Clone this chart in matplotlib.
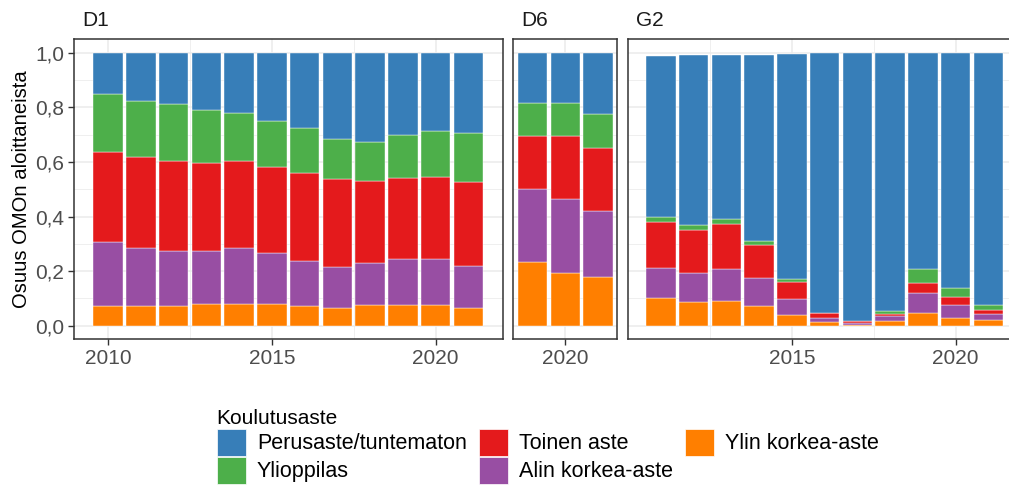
import numpy as np
import matplotlib.pyplot as plt
from matplotlib.patches import Patch

plt.rcParams['font.family'] = ['Liberation Sans', 'DejaVu Sans']

# Data: segment heights
levels = ['Ylin korkea-aste', 'Alin korkea-aste', 'Toinen aste', 'Ylioppilas', 'Perusaste/tuntematon']
colors = ['#FF7F00', '#984EA3', '#E41A1C', '#4DAF4A', '#377EB8']

years_d1 = list(range(2010, 2022))
ylin_d1 = [0.073, 0.071, 0.071, 0.078, 0.078, 0.081, 0.071, 0.066, 0.076, 0.077, 0.076, 0.065]
alin_d1 = [0.235, 0.215, 0.204, 0.196, 0.207, 0.184, 0.167, 0.149, 0.155, 0.167, 0.168, 0.155]
toinen_d1 = [0.330, 0.331, 0.329, 0.321, 0.319, 0.317, 0.323, 0.322, 0.298, 0.296, 0.301, 0.306]
yliopp_d1 = [0.210, 0.207, 0.207, 0.196, 0.174, 0.170, 0.165, 0.146, 0.146, 0.159, 0.170, 0.179]
perus_d1 = [0.152, 0.176, 0.189, 0.209, 0.222, 0.248, 0.274, 0.317, 0.325, 0.301, 0.285, 0.295]

years_d6 = [2019, 2020, 2021]
ylin_d6 = [0.233, 0.194, 0.180]
alin_d6 = [0.269, 0.272, 0.242]
toinen_d6 = [0.195, 0.231, 0.230]
yliopp_d6 = [0.118, 0.118, 0.124]
perus_d6 = [0.185, 0.185, 0.224]

years_g2 = list(range(2011, 2022))
ylin_g2 = [0.103, 0.088, 0.089, 0.071, 0.040, 0.012, 0.004, 0.016, 0.046, 0.028, 0.020]
alin_g2 = [0.110, 0.106, 0.120, 0.104, 0.057, 0.016, 0.006, 0.018, 0.073, 0.048, 0.024]
toinen_g2 = [0.167, 0.158, 0.163, 0.120, 0.064, 0.017, 0.007, 0.008, 0.037, 0.028, 0.012]
yliopp_g2 = [0.019, 0.018, 0.018, 0.017, 0.011, 0.002, 0.001, 0.011, 0.053, 0.035, 0.020]
perus_g2 = [0.590, 0.623, 0.604, 0.682, 0.824, 0.951, 0.981, 0.947, 0.791, 0.860, 0.922]

panels = [
    ('D1', years_d1, [ylin_d1, alin_d1, toinen_d1, yliopp_d1, perus_d1]),
    ('D6', years_d6, [ylin_d6, alin_d6, toinen_d6, yliopp_d6, perus_d6]),
    ('G2', years_g2, [ylin_g2, alin_g2, toinen_g2, yliopp_g2, perus_g2]),
]

W, H = 1009, 486
fig = plt.figure(figsize=(W / 100, H / 100), dpi=100)

# panel boxes in pixels: left, right (G2 runs past the right edge)
boxes = [(74, 502.7), (513.3, 617.3), (628.3, 1021)]
top_px, bot_px = 39.3, 339.3

for i, ((name, years, series), (l, r)) in enumerate(zip(panels, boxes)):
    ax = fig.add_axes([l / W, 1 - bot_px / H, (r - l) / W, (bot_px - top_px) / H])
    bottom = np.zeros(len(years))
    for vals, c in zip(series, colors):
        ax.bar(years, vals, bottom=bottom, width=0.9, color=c,
               edgecolor='white', linewidth=0.3, zorder=3)
        bottom += np.array(vals)
    lo, hi = years[0] - 0.45, years[-1] + 0.45
    pad = (hi - lo) * 0.05
    ax.set_xlim(lo - pad, hi + pad)
    ax.set_ylim(-0.05, 1.05)

    xt = [t for t in [2010, 2015, 2020] if lo - pad <= t <= hi + pad]
    ax.set_xticks(xt)
    ax.set_xticklabels([str(t) for t in xt])
    xm = [t for t in [2012.5, 2017.5] if lo - pad <= t <= hi + pad]
    ax.set_xticks(xm, minor=True)
    ax.set_yticks(np.linspace(0, 1, 6))
    ax.set_yticks([0.1, 0.3, 0.5, 0.7, 0.9], minor=True)
    ax.grid(which='major', color='#EBEBEB', linewidth=1.1, zorder=0)
    ax.grid(which='minor', color='#EBEBEB', linewidth=0.55, zorder=0)
    ax.set_axisbelow(True)
    ax.tick_params(axis='both', which='major', length=4, width=1, color='#333333',
                   labelsize=15, labelcolor='#4D4D4D', pad=3)
    ax.tick_params(axis='both', which='minor', length=0)
    if i == 0:
        ax.set_yticklabels(['0,0', '0,2', '0,4', '0,6', '0,8', '1,0'])
        ax.set_ylabel('Osuus OMOn aloittaneista', fontsize=14.6, color='black', labelpad=3)
    else:
        ax.tick_params(axis='y', which='both', left=False, labelleft=False)
    for s in ax.spines.values():
        s.set_color('#333333')
        s.set_linewidth(1.1)
    ax.text(8 / (r - l), 1.0 + 9 / (bot_px - top_px), name, transform=ax.transAxes,
            fontsize=15, ha='left', va='bottom', color='#1A1A1A')

# legend: column-wise fill gives Perus/Ylioppilas, Toinen/Alin, Ylin
order = [4, 3, 2, 1, 0]
handles = [Patch(facecolor=colors[k], edgecolor='white', linewidth=0.5) for k in order]
labels = [levels[k] for k in order]
leg = fig.legend(handles, labels, title='Koulutusaste', loc='upper left',
                 bbox_to_anchor=(208 / W, 1 - 400 / H), ncol=3, frameon=False,
                 fontsize=15.5, title_fontsize=15, alignment='left',
                 handlelength=1.35, handleheight=1.55, handletextpad=0.52,
                 columnspacing=0.56, labelspacing=0.05, borderaxespad=0)

fig.savefig('out.png', dpi=100)
